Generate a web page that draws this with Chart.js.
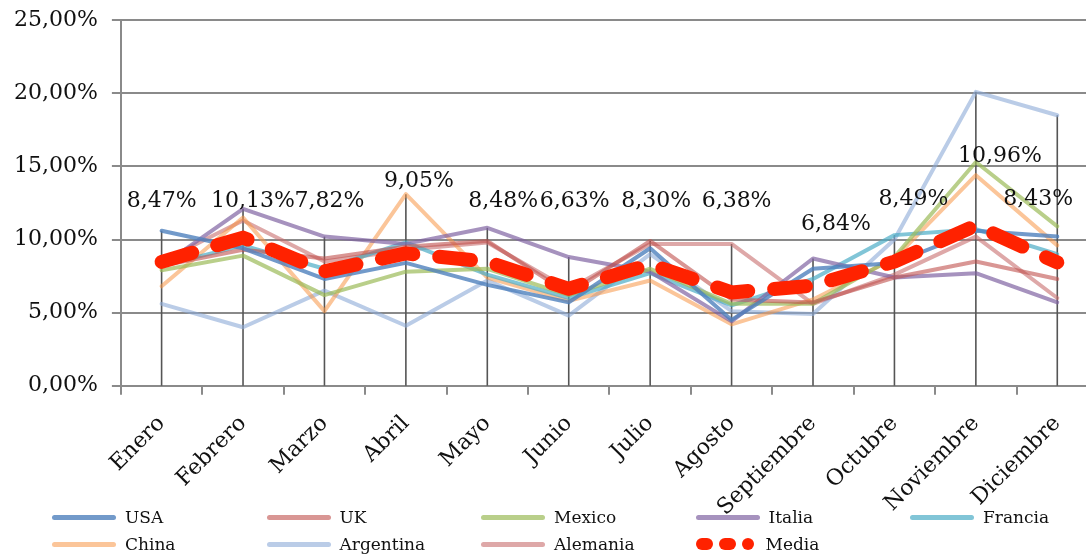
<!DOCTYPE html>
<html>
<head>
<meta charset="utf-8">
<script src="https://cdn.jsdelivr.net/npm/chart.js@4/dist/chart.umd.min.js"></script>
<style>
  html, body { margin: 0; padding: 0; background: #fff; overflow: hidden; }
  #wrap { position: relative; width: 1100px; height: 556px; overflow: hidden; }
  #c { position: absolute; left: 0; top: -7px; }
  #legend { position: absolute; left: 0; top: 0; width: 1100px; height: 556px; pointer-events: none; }
  .item { position: absolute; display: flex; align-items: center; font-family: "DejaVu Serif", serif; font-size: 17px; color: #111; white-space: nowrap; }
  .swatch { width: 64px; height: 5px; border-radius: 3px; margin-right: 9px; }
  .dashes { display: flex; align-items: center; width: 64px; margin-right: 6px; }
  .dashes span { display: inline-block; height: 12px; border-radius: 6px; background: #ff2200; margin-right: 6px; }
</style>
</head>
<body>
<div id="wrap">
  <canvas id="c" width="1100" height="544"></canvas>
  <div id="legend"></div>
</div>
<script>
// ---- data (values in %) ----
const months = ['Enero','Febrero','Marzo','Abril','Mayo','Junio','Julio','Agosto','Septiembre','Octubre','Noviembre','Diciembre'];
const usa       = [10.6, 9.4, 7.3, 8.4, 6.9, 5.7, 9.4, 4.5, 8.0, 8.4, 10.6, 10.2];
const uk        = [8.2, 9.3, 8.7, 9.5, 9.9, 6.3, 9.9, 5.9, 5.7, 7.4, 8.5, 7.3];
const mexico    = [7.9, 8.9, 6.2, 7.8, 8.0, 6.2, 8.0, 5.6, 5.6, 8.8, 15.3, 10.9];
const italia    = [8.2, 12.1, 10.2, 9.7, 10.8, 8.8, 7.8, 4.4, 8.7, 7.4, 7.7, 5.7];
const francia   = [8.2, 9.6, 8.0, 9.8, 7.6, 6.0, 7.7, 5.5, 7.3, 10.3, 10.7, 9.0];
const china     = [6.8, 11.5, 5.1, 13.1, 7.4, 5.8, 7.2, 4.2, 5.9, 8.7, 14.4, 9.6];
const argentina = [5.6, 4.0, 6.5, 4.1, 7.2, 4.8, 9.0, 5.1, 4.9, 10.0, 20.1, 18.5];
const alemania  = [8.5, 11.3, 8.5, 9.3, 9.8, 6.6, 9.7, 9.7, 5.6, 7.6, 10.2, 6.0];
const media     = [8.47, 10.13, 7.82, 9.05, 8.48, 6.63, 8.30, 6.38, 6.84, 8.49, 10.96, 8.43];
const yTicks    = [0, 5, 10, 15, 20, 25];

// ---- label placement (layout only) ----
const labelDx = [0, 10, 5, 13, 16, 6, 6, 5, 23, 19, 24, -19];
const labelAt = [12.64, 12.64, 12.64, 13.95, 12.64, 12.64, 12.64, 12.64, 11.06, 12.77, 15.72, 12.77];

const fmt = v => v.toFixed(2).replace('.', ',') + '%';

const series = [
  { label: 'USA', data: usa, color: 'rgba(79,129,189,0.8)' },
  { label: 'UK', data: uk, color: 'rgba(192,80,77,0.6)' },
  { label: 'Mexico', data: mexico, color: 'rgba(155,187,89,0.7)' },
  { label: 'Italia', data: italia, color: 'rgba(128,100,162,0.7)' },
  { label: 'Francia', data: francia, color: 'rgba(75,172,198,0.7)' },
  { label: 'China', data: china, color: 'rgba(247,150,70,0.55)' },
  { label: 'Argentina', data: argentina, color: 'rgba(140,170,215,0.6)' },
  { label: 'Alemania', data: alemania, color: 'rgba(200,110,110,0.6)' }
];

const datasets = series.map(s => ({
  label: s.label, data: s.data, borderColor: s.color, backgroundColor: s.color,
  borderWidth: 4, pointRadius: 0, tension: 0, fill: false, order: 1,
  borderJoinStyle: 'round', borderCapStyle: 'round'
}));
datasets.push({
  label: 'Media', data: media, borderColor: '#ff2200', backgroundColor: '#ff2200',
  borderWidth: 14, borderDash: [32, 26], borderCapStyle: 'round', borderJoinStyle: 'round',
  pointRadius: 0, tension: 0, fill: false, order: 0
});

const GRID = '#8a8a8a';

const dropLines = {
  id: 'dropLines',
  beforeDatasetsDraw(chart) {
    const { ctx, scales: { x, y } } = chart;
    ctx.save();
    ctx.strokeStyle = '#555';
    ctx.lineWidth = 1.6;
    months.forEach((m, i) => {
      const top = Math.max(...series.map(s => s.data[i]));
      const px = x.getPixelForValue(i);
      ctx.beginPath();
      ctx.moveTo(px, y.getPixelForValue(top));
      ctx.lineTo(px, y.getPixelForValue(0));
      ctx.stroke();
    });
    ctx.restore();
  }
};

const mediaLabels = {
  id: 'mediaLabels',
  afterDatasetsDraw(chart) {
    const { ctx, scales: { x, y } } = chart;
    ctx.save();
    ctx.font = '22px "DejaVu Serif"';
    ctx.fillStyle = '#111';
    ctx.textAlign = 'center';
    ctx.textBaseline = 'middle';
    media.forEach((v, i) => {
      ctx.fillText(fmt(v), x.getPixelForValue(i) + labelDx[i], y.getPixelForValue(labelAt[i]));
    });
    ctx.restore();
  }
};

const chart = new Chart(document.getElementById('c'), {
  type: 'line',
  data: { labels: months, datasets },
  options: {
    responsive: false,
    animation: false,
    devicePixelRatio: 1,
    layout: { padding: { top: 2, right: 2, left: 0, bottom: 0 } },
    plugins: { legend: { display: false }, tooltip: { enabled: false } },
    scales: {
      x: {
        offset: true,
        grid: { offset: true, drawOnChartArea: false, drawTicks: true, tickLength: 9, color: GRID, lineWidth: 2 },
        border: { display: true, color: GRID, width: 2 },
        ticks: { autoSkip: false, maxRotation: 45, minRotation: 45, padding: 16, color: '#111',
                 font: { family: 'DejaVu Serif', size: 22 } }
      },
      y: {
        min: yTicks[0], max: yTicks[yTicks.length - 1],
        afterBuildTicks: axis => { axis.ticks = yTicks.map(v => ({ value: v })); },
        grid: { color: GRID, lineWidth: 2, tickLength: 9 },
        border: { display: true, color: GRID, width: 2 },
        ticks: { padding: 14, color: '#111', font: { family: 'DejaVu Serif', size: 22 }, callback: v => fmt(v) }
      }
    }
  },
  plugins: [dropLines, mediaLabels]
});

// ---- HTML legend built from the chart datasets ----
const legend = document.getElementById('legend');
chart.data.datasets.forEach((ds, i) => {
  const col = i % 5, row = Math.floor(i / 5);
  const item = document.createElement('div');
  item.className = 'item';
  item.style.left = (52 + col * 214.5) + 'px';
  item.style.top = (507 + row * 27) + 'px';
  if (ds.label === 'Media') {
    const d = document.createElement('div');
    d.className = 'dashes';
    [18, 18, 12].forEach(w => { const s = document.createElement('span'); s.style.width = w + 'px'; d.appendChild(s); });
    item.appendChild(d);
  } else {
    const sw = document.createElement('div');
    sw.className = 'swatch';
    sw.style.background = ds.borderColor;
    item.appendChild(sw);
  }
  const t = document.createElement('span');
  t.textContent = ds.label;
  item.appendChild(t);
  legend.appendChild(item);
});
</script>
</body>
</html>
